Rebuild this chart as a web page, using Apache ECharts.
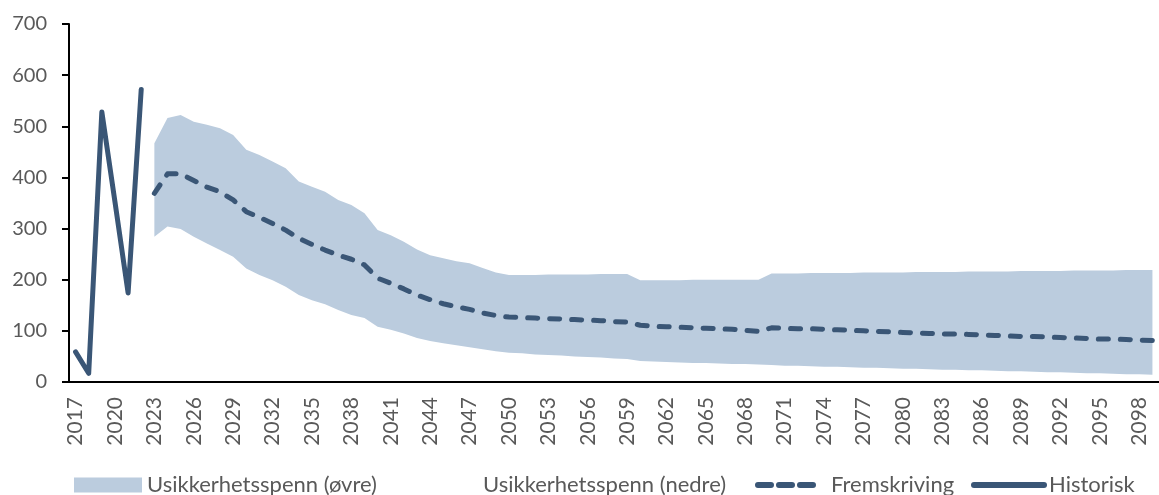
<!DOCTYPE html>
<html>
<head>
<meta charset="utf-8">
<script src="https://cdn.jsdelivr.net/npm/echarts@6/dist/echarts.min.js"></script>
<style>
  html, body { margin: 0; padding: 0; background: #fff; }
  #chart { width: 1159px; height: 495px; }
</style>
</head>
<body>
<div id="chart"></div>
<script>
// years 2017 - 2099
const years = [];
for (let y = 2017; y <= 2099; y++) years.push(String(y));

// 2017-2022
const historisk = [59, 17, 528, 352, 174, 572];

// 2023-2099
const fremskriving = [
  369, 407, 407, 394, 381, 372, 356, 333, 322, 310,
  297, 281, 269, 258, 248, 240, 229, 203, 193, 182,
  170, 161, 153, 147, 142, 135, 130, 127, 126, 125,
  124, 123, 122, 121, 120, 118, 117, 111, 109, 108,
  107, 106, 105, 104, 103, 101, 99, 106, 105, 104,
  104, 103, 102, 101, 100, 99, 98, 97, 96, 95,
  94, 94, 93, 92, 91, 90, 89, 89, 88, 87,
  86, 85, 84, 84, 83, 82, 81
];
const spennOvre = [
  467, 516, 522, 509, 503, 496, 483, 454, 444, 431,
  418, 392, 382, 372, 356, 346, 330, 297, 287, 274,
  259, 248, 242, 236, 232, 223, 214, 209, 209, 209,
  210, 210, 210, 210, 211, 211, 211, 199, 199, 199,
  199, 200, 200, 200, 200, 200, 200, 212, 212, 212,
  213, 213, 213, 213, 214, 214, 214, 214, 215, 215,
  215, 215, 216, 216, 216, 216, 217, 217, 217, 217,
  218, 218, 218, 218, 219, 219, 219
];
const spennNedre = [
  284, 304, 299, 284, 271, 258, 245, 222, 209, 199,
  186, 170, 160, 152, 141, 131, 125, 108, 102, 95,
  86, 80, 76, 72, 68, 64, 60, 57, 56, 54,
  53, 52, 50, 49, 48, 46, 45, 41, 40, 39,
  38, 37, 37, 36, 35, 35, 34, 33, 32, 32,
  31, 30, 30, 29, 28, 28, 27, 26, 26, 25,
  24, 24, 23, 23, 22, 21, 21, 20, 19, 19,
  18, 17, 17, 16, 15, 15, 14
];

const yTicks = { min: 0, max: 700, interval: 100 };

const dark = '#3A5676';
const band = '#BBCCDE';
const textColor = '#595959';
const fontFamily = 'Lato, "Open Sans", sans-serif';

// pad the projection arrays so they line up with the years
const lead = historisk.map(() => null);
const histData = historisk.concat(fremskriving.map(() => null));
const fremData = lead.concat(fremskriving);
const nedreData = lead.concat(spennNedre);
const ovreDiff = lead.concat(spennOvre.map((v, i) => v - spennNedre[i]));

const chart = echarts.init(document.getElementById('chart'));

const legendText = { color: textColor, fontSize: 22, fontFamily: fontFamily };
const legendTop = 474;

chart.setOption({
  animation: false,
  grid: { left: 69, right: 0, top: 24, bottom: 113 },
  legend: [
    {
      left: 74, top: legendTop, padding: 0, itemWidth: 68, itemHeight: 15, itemGap: 0,
      textStyle: legendText,
      data: [{ name: 'Usikkerhetsspenn (øvre)', icon: 'rect', itemStyle: { color: band } }]
    },
    {
      left: 410, top: legendTop, padding: 0, itemWidth: 68, itemHeight: 15, itemGap: 0,
      textStyle: legendText,
      data: [{ name: 'Usikkerhetsspenn (nedre)', icon: 'rect', itemStyle: { color: 'rgba(0,0,0,0)' } }]
    },
    {
      left: 755, top: legendTop, padding: 0, itemWidth: 68, itemHeight: 15, itemGap: 0,
      textStyle: legendText,
      lineStyle: { width: 6, type: [13, 8, 13, 8, 13, 50], cap: 'round' },
      data: [{ name: 'Fremskriving', itemStyle: { opacity: 0 } }]
    },
    {
      left: 971, top: legendTop, padding: 0, itemWidth: 70, itemHeight: 15, itemGap: 0,
      textStyle: legendText,
      lineStyle: { width: 6, cap: 'round' },
      data: [{ name: 'Historisk', itemStyle: { opacity: 0 } }]
    }
  ],
  xAxis: {
    type: 'category',
    data: years,
    boundaryGap: true,
    axisLine: { lineStyle: { color: '#000', width: 2 } },
    axisTick: { show: false },
    axisLabel: {
      interval: 2,
      rotate: 90,
      margin: 15,
      color: textColor,
      fontSize: 21,
      fontFamily: fontFamily
    }
  },
  yAxis: {
    type: 'value',
    min: yTicks.min,
    max: yTicks.max,
    interval: yTicks.interval,
    splitLine: { show: false },
    axisLine: { show: true, lineStyle: { color: '#000', width: 2 } },
    axisTick: { show: true, length: 7, lineStyle: { color: '#000', width: 2 } },
    axisLabel: {
      margin: 22,
      color: textColor,
      fontSize: 20,
      fontFamily: fontFamily
    }
  },
  series: [
    {
      name: 'Usikkerhetsspenn (nedre)',
      type: 'line',
      stack: 'spenn',
      data: nedreData,
      symbol: 'none',
      lineStyle: { width: 0, opacity: 0 },
      areaStyle: { color: 'rgba(0,0,0,0)' },
      z: 1
    },
    {
      name: 'Usikkerhetsspenn (øvre)',
      type: 'line',
      stack: 'spenn',
      data: ovreDiff,
      symbol: 'none',
      lineStyle: { width: 0, opacity: 0 },
      areaStyle: { color: band, opacity: 1 },
      z: 1
    },
    {
      name: 'Fremskriving',
      type: 'line',
      data: fremData,
      symbol: 'none',
      itemStyle: { color: dark },
      lineStyle: { color: dark, width: 5, type: [10, 12], cap: 'round', join: 'round' },
      z: 3
    },
    {
      name: 'Historisk',
      type: 'line',
      data: histData,
      symbol: 'none',
      itemStyle: { color: dark },
      lineStyle: { color: dark, width: 5, cap: 'round', join: 'round' },
      z: 3
    }
  ]
});
</script>
</body>
</html>
